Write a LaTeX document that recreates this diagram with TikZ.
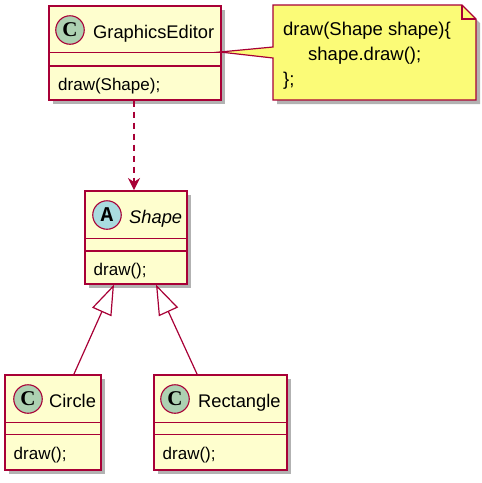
\documentclass[tikz,border=0pt]{standalone}
\usepackage{fontspec}
\setmainfont{Liberation Sans}
\newfontfamily\iconfont{Liberation Serif}
\usetikzlibrary{arrows.meta,shadows}
\definecolor{umlborder}{HTML}{A80036}
\definecolor{umlfill}{HTML}{FEFECE}
\definecolor{notefill}{HTML}{FBFB77}
\definecolor{cicon}{HTML}{ADD1B2}
\definecolor{aicon}{HTML}{A9DCDF}
\begin{document}
\begin{tikzpicture}[x=1pt,y=-1pt,
  cls/.style={draw=umlborder, line width=1.6pt, fill=umlfill, rectangle, inner sep=0pt, anchor=north west,
    drop shadow={shadow xshift=4pt, shadow yshift=-4pt, opacity=0.3, fill=black}},
  sep/.style={draw=umlborder, line width=1.5pt},
  icon/.style={circle, draw=umlborder, line width=1.1pt, minimum size=28.5pt, inner sep=0pt, font=\iconfont\bfseries\fontsize{21}{21}\selectfont},
  cname/.style={anchor=base west, inner sep=0pt, font=\fontsize{18.3}{20}\selectfont},
  member/.style={anchor=base west, inner sep=0pt, font=\fontsize{17}{19}\selectfont},
  notetext/.style={anchor=base west, inner sep=0pt, font=\fontsize{18.5}{20}\selectfont},
  link/.style={draw=umlborder, line width=1.2pt},
]
\useasboundingbox (0,0) rectangle (482,483);

% ---------- GraphicsEditor ----------
\node[cls, minimum width=172pt, minimum height=94pt] (ge) at (48,5) {};
\draw[sep] ([yshift=-47.5pt]ge.north west) -- ([yshift=-47.5pt]ge.north east);
\draw[sep] ([yshift=-61pt]ge.north west) -- ([yshift=-61pt]ge.north east);
\node[icon, fill=cicon] (geicon) at (70,30) {C};
\node[cname] (gename) at (93,38) {GraphicsEditor};
\node[member] (gemem) at (58,90) {draw(Shape);};

% ---------- Shape ----------
\node[cls, minimum width=102pt, minimum height=93pt] (shape) at (84,190) {};
\draw[sep] ([yshift=-48.5pt]shape.north west) -- ([yshift=-48.5pt]shape.north east);
\draw[sep] ([yshift=-61pt]shape.north west) -- ([yshift=-61pt]shape.north east);
\node[icon, fill=aicon] (shapeicon) at (107,215) {\fontspec{Liberation Mono}\bfseries A};
\node[cname, font=\fontsize{18.3}{20}\selectfont\itshape] (shapename) at (129,223) {Shape};
\node[member] (shapemem) at (93.5,275) {draw();};

% ---------- Circle ----------
\node[cls, minimum width=96pt, minimum height=95pt] (circ) at (4,374) {};
\draw[sep] ([yshift=-48.5pt]circ.north west) -- ([yshift=-48.5pt]circ.north east);
\draw[sep] ([yshift=-60.5pt]circ.north west) -- ([yshift=-60.5pt]circ.north east);
\node[icon, fill=cicon] (circicon) at (28,399) {C};
\node[cname] (circname) at (49,407) {Circle};
\node[member] (circmem) at (13.5,459) {draw();};

% ---------- Rectangle ----------
\node[cls, minimum width=133pt, minimum height=95pt] (rect) at (153,374) {};
\draw[sep] ([yshift=-48.5pt]rect.north west) -- ([yshift=-48.5pt]rect.north east);
\draw[sep] ([yshift=-60.5pt]rect.north west) -- ([yshift=-60.5pt]rect.north east);
\node[icon, fill=cicon] (recticon) at (175,399) {C};
\node[cname] (rectname) at (198,407) {Rectangle};
\node[member] (rectmem) at (162.5,459) {draw();};

% ---------- Note ----------
\coordinate (notetip) at (220,52);
\fill[black, opacity=0.3] (277,9) -- (466,9) -- (480,23) -- (480,104) -- (277,104) -- cycle;
\draw[draw=umlborder, line width=1.2pt, fill=notefill, line join=miter]
  (273,5) -- (462,5) -- (476,19) -- (476,100) -- (273,100) -- (273,58) -- (notetip) -- (273,47) -- cycle;
\draw[draw=umlborder, line width=1.2pt] (462,5) -- (462,19) -- (476,19);
\node[notetext] (n1) at (283,35) {draw(Shape shape)\{};
\node[notetext] (n2) at (308,60) {shape.draw();};
\node[notetext] (n3) at (283,85) {\};};

% ---------- Connectors ----------
\draw[link, dash pattern=on 6pt off 5pt, -{Stealth[length=12pt,width=12pt,inset=4pt]}]
  (ge.south -| 134,0) -- (shape.north -| 134,0);
\coordinate (cbase) at (74,374);
\coordinate (rbase) at (197,374);
\draw[link, -{Triangle[open,length=30pt,width=21pt,fill=white]}] (cbase) -- (shape.south -| 114,0);
\draw[link, -{Triangle[open,length=30pt,width=21pt,fill=white]}] (rbase) -- (shape.south -| 156,0);
\end{tikzpicture}
\end{document}
